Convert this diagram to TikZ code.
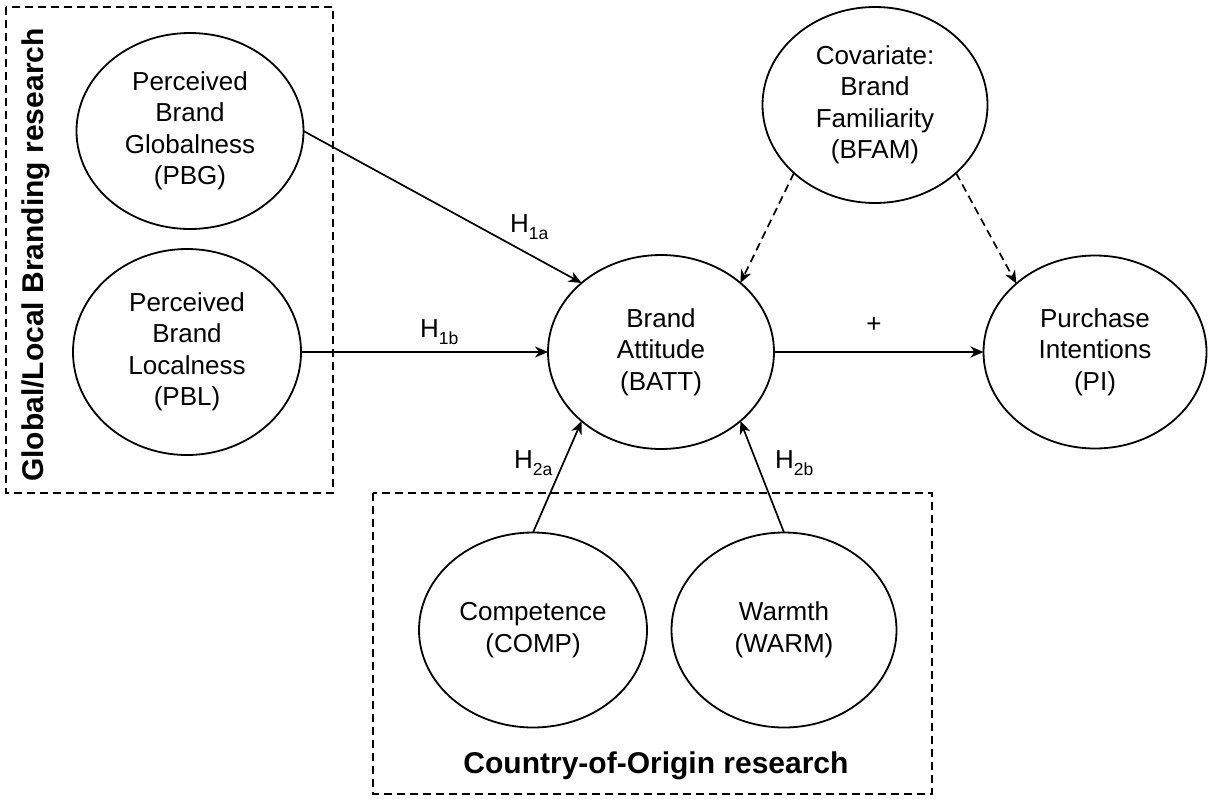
\documentclass[tikz,border=0pt]{standalone}
\usepackage{fontspec}
\setmainfont{Liberation Sans}
\usetikzlibrary{shapes.geometric,arrows.meta}
\tikzset{
  var/.style={ellipse,draw,line width=1.8pt,inner sep=0pt,outer sep=0pt,align=center,
    font=\fontsize{26}{31.5}\selectfont},
  conn/.style={line width=1.7pt,-{Stealth[length=13pt,width=11pt,inset=4pt]}},
  dconn/.style={conn,dash pattern=on 8pt off 5pt},
  grpbox/.style={line width=1.7pt,dash pattern=on 8pt off 5pt},
  hlab/.style={inner sep=0pt,font=\fontsize{26}{26}\selectfont},
  grplab/.style={inner sep=0pt,font=\fontsize{30}{30}\selectfont\bfseries}
}
\newcommand{\hsub}[1]{H\raisebox{-0.28em}{\fontsize{17.5}{17.5}\selectfont #1}}
\begin{document}
\begin{tikzpicture}[x=1pt,y=-1pt]
\useasboundingbox (0,0) rectangle (1209,798);
% group boxes
\draw[grpbox] (6,7) rectangle (333,493);
\draw[grpbox] (373,493) rectangle (932,794);
\node[grplab,rotate=90,anchor=base] (glab) at (43,255) {Global/Local Branding research};
\node[grplab,anchor=base] (clab) at (656,773) {Country-of-Origin research};
% variables
\node[var,minimum width=227pt,minimum height=196pt] (pbg) at (190,131) {Perceived\\Brand\\Globalness\\(PBG)};
\node[var,minimum width=228pt,minimum height=206pt] (pbl) at (187,352) {Perceived\\Brand\\Localness\\(PBL)};
\node[var,minimum width=226pt,minimum height=194pt] (batt) at (661,352) {Brand\\Attitude\\(BATT)};
\node[var,minimum width=225pt,minimum height=196pt] (bfam) at (875,105) {Covariate:\\Brand\\Familiarity\\(BFAM)};
\node[var,minimum width=223pt,minimum height=193pt] (pi) at (1095,352) {Purchase\\Intentions\\(PI)};
\node[var,minimum width=228pt,minimum height=195pt] (comp) at (533,630) {Competence\\(COMP)};
\node[var,minimum width=225pt,minimum height=195pt] (warm) at (784,630) {Warmth\\(WARM)};
% connectors
\draw[conn] (pbg.east) -- (batt.139);
\draw[conn] (pbl.east) -- (batt.west);
\draw[conn] (comp.north) -- (batt.221);
\draw[conn] (warm.north) -- (batt.319);
\draw[conn] (batt.east) -- (pi.west);
\draw[dconn] (bfam.220) -- (batt.41);
\draw[dconn] (bfam.320) -- (pi.139);
% labels
\node[hlab,anchor=base west] (h1a) at (510,232) {\hsub{1a}};
\node[hlab,anchor=base west] (h1b) at (420,337) {\hsub{1b}};
\node[hlab,anchor=base west] (h2a) at (514,468) {\hsub{2a}};
\node[hlab,anchor=base west] (h2b) at (775,468) {\hsub{2b}};
\node[hlab] (plus) at (874,325) {+};
\end{tikzpicture}
\end{document}
